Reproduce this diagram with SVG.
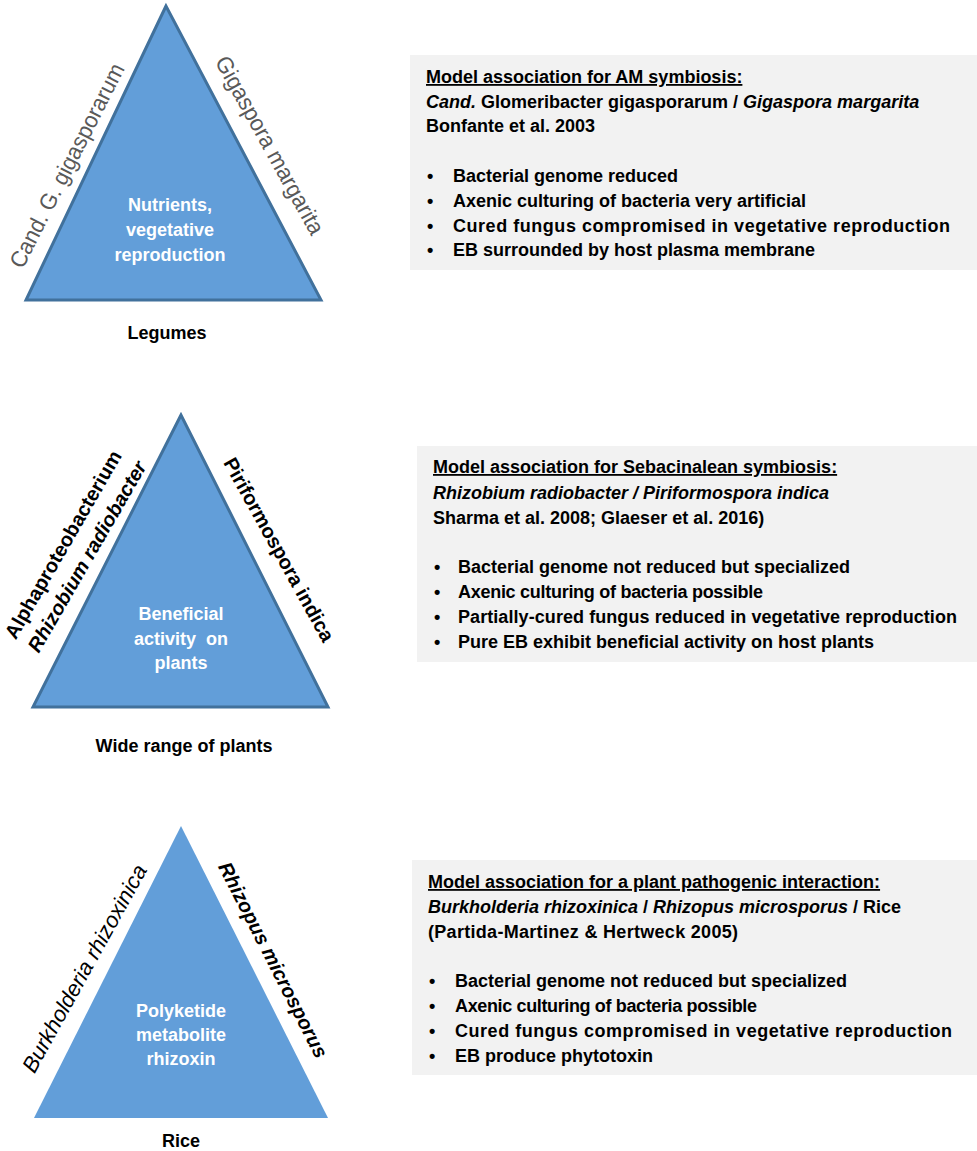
<svg xmlns="http://www.w3.org/2000/svg" width="977" height="1151" viewBox="0 0 977 1151">
  <style>
    .tri { fill: #629ed9; stroke: #41719c; stroke-width: 3; }
    .tri-plain { fill: #629ed9; }
    .box { fill: #f2f2f2; }
    .mid { font-family: "Liberation Sans", Arial, sans-serif; font-weight: bold; font-size: 18px; fill: #ffffff; text-anchor: middle; }
    .host { font-family: "Liberation Sans", Arial, sans-serif; font-weight: bold; font-size: 18px; fill: #000000; text-anchor: middle; }
    .side { font-family: "Liberation Sans", Arial, sans-serif; text-anchor: middle; fill: #000000; }
    .gray { fill: #595959; font-size: 23px; }
    .b20 { font-weight: bold; font-size: 20px; }
    .i22 { font-style: italic; font-size: 22px; }
    .t { font-family: "Liberation Sans", Arial, sans-serif; font-weight: bold; font-size: 18px; fill: #000000; }
    .u { text-decoration: underline; }
    .it { font-style: italic; }
  </style>

  <rect width="977" height="1151" fill="#ffffff"/>

  <!-- AM symbiosis triad -->
  <g id="triad-am">
    <polygon class="tri" points="166,6 26,300 321,300"/>
    <text class="mid" x="170" y="211">Nutrients,</text>
    <text class="mid" x="170" y="236">vegetative</text>
    <text class="mid" x="170" y="261">reproduction</text>
    <text class="side gray" transform="translate(74,169) rotate(-63)" textLength="226" lengthAdjust="spacingAndGlyphs">Cand. G. gigasporarum</text>
    <text class="side gray" transform="translate(263,149) rotate(61)" textLength="200" lengthAdjust="spacingAndGlyphs">Gigaspora margarita</text>
    <text class="host" x="167" y="339">Legumes</text>
  </g>

  <g id="box-am">
    <rect class="box" x="410" y="55" width="567" height="215"/>
    <text class="t u" x="426" y="83">Model association for AM symbiosis:</text>
    <text class="t" x="426" y="108"><tspan class="it">Cand.</tspan> Glomeribacter gigasporarum / <tspan class="it">Gigaspora margarita</tspan></text>
    <text class="t" x="426" y="132">Bonfante et al. 2003</text>
    <text class="t" x="427" y="182">•</text>
    <text class="t" x="453" y="182">Bacterial genome reduced</text>
    <text class="t" x="427" y="207">•</text>
    <text class="t" x="453" y="207">Axenic culturing of bacteria very artificial</text>
    <text class="t" x="427" y="232">•</text>
    <text class="t" x="453" y="232" textLength="497">Cured fungus compromised in vegetative reproduction</text>
    <text class="t" x="427" y="256">•</text>
    <text class="t" x="453" y="256">EB surrounded by host plasma membrane</text>
  </g>

  <!-- Sebacinalean symbiosis triad -->
  <g id="triad-sebacinalean">
    <polygon class="tri" points="181,415 33,707 328,707"/>
    <text class="mid" x="181" y="620">Beneficial</text>
    <text class="mid" x="181" y="645" xml:space="preserve">activity  on</text>
    <text class="mid" x="181" y="669">plants</text>
    <text class="side b20" transform="translate(69,548) rotate(-60)">Alphaproteobacterium</text>
    <text class="side b20 it" transform="translate(93,560) rotate(-60)">Rhizobium radiobacter</text>
    <text class="side b20" transform="translate(273,553) rotate(61)">Piriformospora indica</text>
    <text class="host" x="184" y="752">Wide range of plants</text>
  </g>

  <g id="box-sebacinalean">
    <rect class="box" x="417" y="446" width="560" height="216"/>
    <text class="t u" x="433" y="473">Model association for Sebacinalean symbiosis:</text>
    <text class="t it" x="433" y="499">Rhizobium radiobacter / Piriformospora indica</text>
    <text class="t" x="433" y="524">Sharma et al. 2008; Glaeser et al. 2016)</text>
    <text class="t" x="434" y="573">•</text>
    <text class="t" x="458" y="573">Bacterial genome not reduced but specialized</text>
    <text class="t" x="434" y="598">•</text>
    <text class="t" x="458" y="598" textLength="305">Axenic culturing of bacteria possible</text>
    <text class="t" x="434" y="623">•</text>
    <text class="t" x="458" y="623" textLength="499">Partially-cured fungus reduced in vegetative reproduction</text>
    <text class="t" x="434" y="648">•</text>
    <text class="t" x="458" y="648">Pure EB exhibit beneficial activity on host plants</text>
  </g>

  <!-- Plant pathogenic triad -->
  <g id="triad-pathogenic">
    <polygon class="tri-plain" points="181,826 34,1118 328,1118"/>
    <text class="mid" x="181" y="1017">Polyketide</text>
    <text class="mid" x="181" y="1041">metabolite</text>
    <text class="mid" x="181" y="1065">rhizoxin</text>
    <text class="side i22" transform="translate(91,972) rotate(-61)">Burkholderia rhizoxinica</text>
    <text class="side b20 it" transform="translate(267,963) rotate(63)">Rhizopus microsporus</text>
    <text class="host" x="181" y="1147">Rice</text>
  </g>

  <g id="box-pathogenic">
    <rect class="box" x="412" y="860" width="565" height="215"/>
    <text class="t u" x="428" y="888">Model association for a plant pathogenic interaction:</text>
    <text class="t" x="428" y="913"><tspan class="it">Burkholderia rhizoxinica</tspan> / <tspan class="it">Rhizopus microsporus</tspan> / Rice</text>
    <text class="t" x="428" y="938" textLength="310">(Partida-Martinez &amp; Hertweck 2005)</text>
    <text class="t" x="429" y="987">•</text>
    <text class="t" x="455" y="987">Bacterial genome not reduced but specialized</text>
    <text class="t" x="429" y="1012">•</text>
    <text class="t" x="455" y="1012" textLength="302">Axenic culturing of bacteria possible</text>
    <text class="t" x="429" y="1037">•</text>
    <text class="t" x="455" y="1037" textLength="497">Cured fungus compromised in vegetative reproduction</text>
    <text class="t" x="429" y="1062">•</text>
    <text class="t" x="455" y="1062">EB produce phytotoxin</text>
  </g>

  <g id="connectors"/>
</svg>
